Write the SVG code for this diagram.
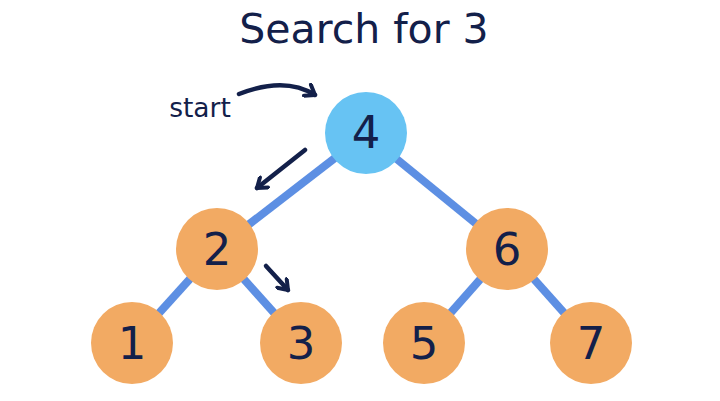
<svg xmlns="http://www.w3.org/2000/svg" width="720" height="401" viewBox="0 0 720 401">
<style>
.edge{stroke:#5d8fe3;stroke-width:8;fill:none}
.nd{fill:#f2aa63}
.root{fill:#67c3f3}
.lbl{font-family:"DejaVu Sans",sans-serif;font-size:45px;fill:#13204a;text-anchor:middle}
.ar{stroke:#13204a;stroke-width:4.5;fill:none;stroke-linecap:round;stroke-linejoin:round}
</style>
<defs>
<marker id="ah" viewBox="0 0 16 16" refX="12" refY="8" markerWidth="16" markerHeight="16" markerUnits="userSpaceOnUse" orient="auto">
<path d="M3,1.5 L12,8 L3,14.5" fill="none" stroke="#13204a" stroke-width="4" stroke-linecap="round" stroke-linejoin="round"/>
</marker>
</defs>
<rect width="720" height="401" fill="#ffffff"/>
<text x="364" y="43" font-family="DejaVu Sans,sans-serif" font-size="41" fill="#13204a" text-anchor="middle">Search for 3</text>
<text x="200" y="117" font-family="DejaVu Sans,sans-serif" font-size="26.5" fill="#13204a" text-anchor="middle">start</text>
<g id="connectors">
<line class="edge" x1="366" y1="134" x2="217" y2="249"/>
<line class="edge" x1="366" y1="134" x2="507" y2="249"/>
<line class="edge" x1="217" y1="249" x2="132" y2="343"/>
<line class="edge" x1="217" y1="249" x2="301" y2="343"/>
<line class="edge" x1="507" y1="249" x2="424" y2="343"/>
<line class="edge" x1="507" y1="249" x2="591" y2="343"/>
<path class="ar" d="M239,94 Q285,76 315,95" marker-end="url(#ah)"/>
<path class="ar" d="M305,150 L257,188" marker-end="url(#ah)"/>
<path class="ar" d="M266,266 L288,290" marker-end="url(#ah)"/>
</g>
<g id="n4"><circle class="root" cx="366" cy="133" r="41"/><text class="lbl" x="366" y="148">4</text></g>
<g id="n2"><circle class="nd" cx="217" cy="249" r="41"/><text class="lbl" x="217" y="265">2</text></g>
<g id="n6"><circle class="nd" cx="507" cy="249" r="41"/><text class="lbl" x="507" y="265">6</text></g>
<g id="n1"><circle class="nd" cx="132" cy="343" r="41"/><text class="lbl" x="132" y="359">1</text></g>
<g id="n3"><circle class="nd" cx="301" cy="343" r="41"/><text class="lbl" x="301" y="359">3</text></g>
<g id="n5"><circle class="nd" cx="424" cy="343" r="41"/><text class="lbl" x="424" y="359">5</text></g>
<g id="n7"><circle class="nd" cx="591" cy="343" r="41"/><text class="lbl" x="591" y="359">7</text></g>
</svg>
